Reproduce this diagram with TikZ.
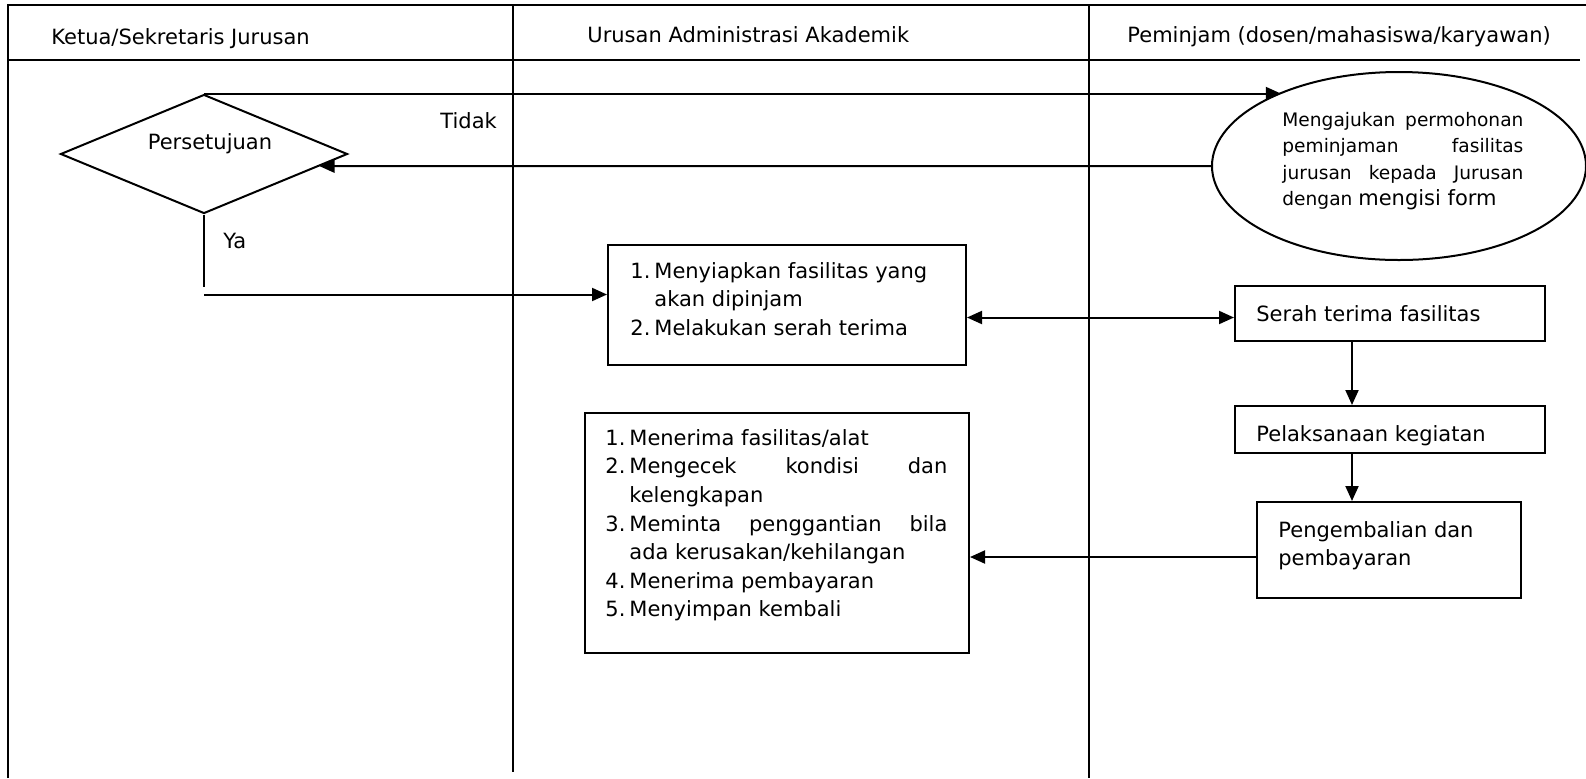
\documentclass[tikz,border=0pt]{standalone}
\usepackage{fontspec}
\setmainfont{DejaVu Sans}
\usepackage{tikz}
\usetikzlibrary{arrows.meta,shapes.geometric}
\newcommand{\nomor}[2]{\makebox[12pt][l]{#1}#2}
\newcommand{\nomorrata}[3]{\makebox[12pt][l]{#1}\makebox[#3][s]{#2}}
\newcommand{\lanjut}[1]{\hspace*{12pt}#1}

\begin{document}
\begin{tikzpicture}[x=0.5pt,y=-0.5pt,
    kotak/.style={draw,line width=1pt,rectangle,inner sep=0pt},
    teks/.style={inner sep=0pt,anchor=north west,align=left,font=\fontsize{10.5}{14.2}\selectfont},
    judul/.style={inner sep=0pt,anchor=base west,font=\fontsize{10.5}{13}\selectfont},
    panah/.style={line width=1pt,-{Triangle[length=7.5pt,width=6.5pt]}},
    panahdua/.style={line width=1pt,{Triangle[length=7.5pt,width=6.5pt]}-{Triangle[length=7.5pt,width=6.5pt]}}]
    \useasboundingbox (0,0) rectangle (1586,778);
    \draw[line width=1.4pt] (8,778) -- (8,5) -- (1586,5);
    \draw[line width=1.4pt] (8,60) -- (1580,60);
    \draw[line width=1pt] (513,5) -- (513,772);
    \draw[line width=1pt] (1089,5) -- (1089,778);
    \node[judul] (lane1) at (51,44) {Ketua/Sekretaris Jurusan};
    \node[judul] (lane2) at (587,42) {Urusan Administrasi Akademik};
    \node[judul] (lane3) at (1127,42) {Peminjam (dosen/mahasiswa/karyawan)};

    \node[diamond,draw,line width=1pt,inner sep=0pt,minimum width=143.5pt,minimum height=59.5pt] (dec) at (204,154) {};
    \node[font=\fontsize{10.5}{13}\selectfont,inner sep=0pt] (setuju) at (210,144) {Persetujuan};
    \node[judul] (tidak) at (440,128) {Tidak};
    \node[judul] (ya) at (223,248) {Ya};

    \node[ellipse,draw,line width=1pt,inner sep=0pt,minimum width=187pt,minimum height=94pt] (mohon) at (1399,166) {};
    \node[teks,font=\fontsize{9.3}{13.15}\selectfont] (mohonteks) at (1282,112)
        {\makebox[120.5pt][s]{Mengajukan permohonan}\\
         \makebox[120.5pt][s]{peminjaman fasilitas}\\
         \makebox[120.5pt][s]{jurusan kepada Jurusan}\\
         dengan {\fontsize{10.5}{13}\selectfont mengisi form}};

    \node[kotak,minimum width=179pt,minimum height=60pt] (box1) at (787,305) {};
    \node[teks] (box1teks) at (630,262)
        {\nomor{1.}{Menyiapkan fasilitas yang}\\
         \lanjut{akan dipinjam}\\
         \nomor{2.}{Melakukan serah terima}};

    \node[kotak,minimum width=155pt,minimum height=27.5pt] (box2) at (1390,313.5) {};
    \node[teks] (box2teks) at (1256,305) {Serah terima fasilitas};

    \node[kotak,minimum width=155pt,minimum height=23.5pt] (box3) at (1390,429.5) {};
    \node[teks] (box3teks) at (1256,425) {Pelaksanaan kegiatan};

    \node[kotak,minimum width=132pt,minimum height=48pt] (box4) at (1389,550) {};
    \node[teks] (box4teks) at (1278,521) {Pengembalian dan\\pembayaran};

    \node[kotak,minimum width=192pt,minimum height=120pt] (box5) at (777,533) {};
    \node[teks,font=\fontsize{10.5}{14.3}\selectfont] (box5teks) at (605,429)
        {\nomor{1.}{Menerima fasilitas/alat}\\
         \nomorrata{2.}{Mengecek kondisi dan}{159pt}\\
         \lanjut{kelengkapan}\\
         \nomorrata{3.}{Meminta penggantian bila}{159pt}\\
         \lanjut{ada kerusakan/kehilangan}\\
         \nomor{4.}{Menerima pembayaran}\\
         \nomor{5.}{Menyimpan kembali}};

    \draw[panah] (dec.north) -- (dec.north -| mohon.148);
    \draw[panah] (mohon.west) -- (dec.-6);
    \draw[line width=1pt] (dec.south) -- ++(0,72) coordinate (belok);
    \coordinate (yajalur) at ([yshift=-4pt]belok);
    \draw[panah] (yajalur) -- (yajalur -| box1.west);
    \coordinate (serah) at ([yshift=-2pt]box2.west);
    \draw[panahdua] (box1.east |- serah) -- (serah);
    \draw[panah] ([xshift=-19pt]box2.south) -- ([xshift=-19pt]box3.north);
    \draw[panah] ([xshift=-19pt]box3.south) -- ([xshift=-18.5pt]box4.north);
    \coordinate (kembali) at ([yshift=-3.5pt]box4.west);
    \draw[panah] (kembali) -- (kembali -| box5.east);
\end{tikzpicture}
\end{document}
